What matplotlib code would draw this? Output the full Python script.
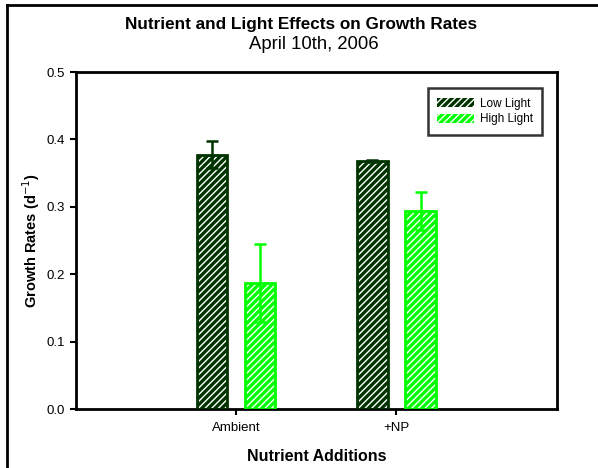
import numpy as np
import matplotlib
matplotlib.use('Agg')
import matplotlib.pyplot as plt
from matplotlib.patches import Patch
from matplotlib.lines import Line2D

plt.rcParams['font.family'] = ['Liberation Sans', 'DejaVu Sans']
plt.rcParams['hatch.linewidth'] = 1.0

categories = ['Ambient', '+NP']
low_light = [0.377, 0.368]
low_err = [0.020, 0.002]
high_light = [0.187, 0.294]
high_err = [0.058, 0.028]

dark = '#003300'
bright = '#00ff00'

fig = plt.figure(figsize=(5.98, 4.68), dpi=100)
ax = fig.add_axes([0.127, 0.126, 0.804, 0.720])

x = np.arange(len(categories))
w = 0.19
off = 0.15

for vals, errs, col, sgn in [(low_light, low_err, dark, -1), (high_light, high_err, bright, 1)]:
    pos = x + sgn * off
    # fill + white hatch
    ax.bar(pos, vals, w, color=col, edgecolor='white', hatch='/////', linewidth=0, zorder=2)
    # outline
    ax.bar(pos, vals, w, fill=False, edgecolor=col, linewidth=2, zorder=3)
    ax.errorbar(pos, vals, yerr=errs, fmt='none', ecolor=col, elinewidth=1.8,
                capsize=4, capthick=1.8, zorder=4)

ax.set_xlim(-1, 2)
ax.set_ylim(0, 0.5)
ax.set_yticks([0.0, 0.1, 0.2, 0.3, 0.4, 0.5])
ax.set_yticklabels(['0.0', '0.1', '0.2', '0.3', '0.4', '0.5'])
ax.set_xticks(x)
ax.set_xticklabels(categories)
ax.tick_params(axis='both', direction='out', length=4, width=1.5, labelsize=9.5, pad=4)
ax.tick_params(axis='x', pad=5)
for s in ax.spines.values():
    s.set_linewidth(2)

ax.set_xlabel('Nutrient Additions', fontsize=11.5, fontweight='bold', labelpad=11)
ax.set_ylabel('Growth Rates (d$^{-1}$)', fontsize=10.5, fontweight='bold', labelpad=3)

fig.text(0.503, 0.947, 'Nutrient and Light Effects on Growth Rates', ha='center', va='center',
         fontsize=12.3, fontweight='bold')
fig.text(0.525, 0.904, 'April 10th, 2006', ha='center', va='center', fontsize=13.3)

handles = [Patch(facecolor=dark, edgecolor='white', hatch='/////', linewidth=0),
           Patch(facecolor=bright, edgecolor='white', hatch='/////', linewidth=0)]
leg = ax.legend(handles, ['Low Light', 'High Light'], loc='upper right',
                bbox_to_anchor=(0.97, 0.952), fontsize=8.5, frameon=True, fancybox=False,
                edgecolor='black', borderpad=0.8, handlelength=3.1, handleheight=0.8,
                handletextpad=0.5, labelspacing=0.3, borderaxespad=0)
leg.get_frame().set_linewidth(1.8)

# outer frame (top and left edges visible)
fig.add_artist(Line2D([7 / 598, 1.0], [1 - 5 / 468, 1 - 5 / 468], color='black', lw=2,
                      transform=fig.transFigure))
fig.add_artist(Line2D([7 / 598, 7 / 598], [0, 1 - 5 / 468], color='black', lw=2,
                      transform=fig.transFigure))

fig.savefig('out.png', dpi=100)
